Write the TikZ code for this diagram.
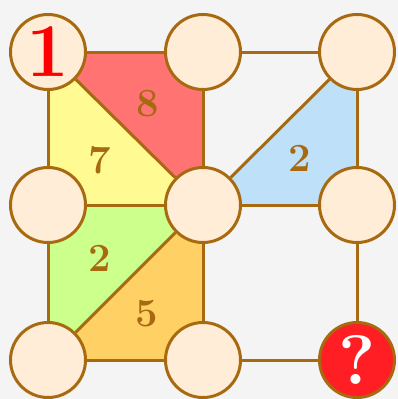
\documentclass[tikz,border=0pt]{standalone}
\usepackage{tikz}
\usepackage{xcolor}

\definecolor{brn}{RGB}{168,106,16}
\definecolor{peach}{RGB}{255,237,216}
\definecolor{bgc}{RGB}{244,244,244}
\definecolor{redf}{RGB}{255,115,115}
\definecolor{yelf}{RGB}{255,250,145}
\definecolor{bluf}{RGB}{190,224,248}
\definecolor{grnf}{RGB}{205,255,140}
\definecolor{orgf}{RGB}{255,208,100}
\definecolor{qred}{RGB}{255,30,35}

\tikzset{
  dot/.style={circle,draw=brn,fill=peach,line width=3pt,minimum size=75pt,inner sep=0pt},
  edge/.style={draw=brn,line width=3pt},
  num/.style={text=brn,font=\fontsize{40}{40}\selectfont\bfseries}
}

\begin{document}
\begin{tikzpicture}[x=1pt,y=-1pt]
  \fill[bgc] (0,0) rectangle (398,399);
  \useasboundingbox (0,0) rectangle (398,399);

  \coordinate (p1) at (48,52);
  \coordinate (p2) at (203,52);
  \coordinate (p3) at (357,52);
  \coordinate (p4) at (48,205);
  \coordinate (p5) at (203,205);
  \coordinate (p6) at (357,205);
  \coordinate (p7) at (48,360);
  \coordinate (p8) at (203,360);
  \coordinate (p9) at (357,360);

  % coloured pieces
  \fill[redf] (p1) -- (p2) -- (p5) -- cycle;
  \fill[yelf] (p1) -- (p4) -- (p5) -- cycle;
  \fill[bluf] (p3) -- (p6) -- (p5) -- cycle;
  \fill[grnf] (p4) -- (p5) -- (p7) -- cycle;
  \fill[orgf] (p5) -- (p8) -- (p7) -- cycle;

  \node[dot] (n1) at (p1) {\fontsize{76}{76}\selectfont\bfseries\color{red}1};
  \node[dot] (n2) at (p2) {};
  \node[dot] (n3) at (p3) {};
  \node[dot] (n4) at (p4) {};
  \node[dot] (n5) at (p5) {};
  \node[dot] (n6) at (p6) {};
  \node[dot] (n7) at (p7) {};
  \node[dot] (n8) at (p8) {};
  \node[dot,fill=qred] (n9) at (p9) {\fontsize{70}{70}\selectfont\bfseries\color{white}?};

  \draw[edge] (n1) -- (n2);
  \draw[edge] (n2) -- (n3);
  \draw[edge] (n4) -- (n5);
  \draw[edge] (n5) -- (n6);
  \draw[edge] (n7) -- (n8);
  \draw[edge] (n8) -- (n9);
  \draw[edge] (n1) -- (n4);
  \draw[edge] (n4) -- (n7);
  \draw[edge] (n2) -- (n5);
  \draw[edge] (n5) -- (n8);
  \draw[edge] (n3) -- (n6);
  \draw[edge] (n6) -- (n9);
  \draw[edge] (n1) -- (n5);
  \draw[edge] (n3) -- (n5);
  \draw[edge] (n7) -- (n5);

  \node[num] (l8) at (148,104) {8};
  \node[num] (l7) at (100,160) {7};
  \node[num] (lb) at (300,158) {2};
  \node[num] (lg) at (100,258) {2};
  \node[num] (l5) at (147,314) {5};
\end{tikzpicture}
\end{document}
